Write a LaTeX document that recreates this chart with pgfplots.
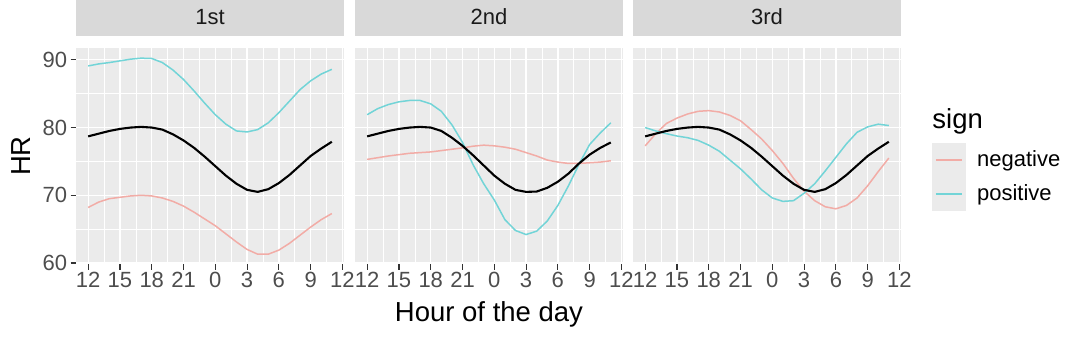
\documentclass[border=0pt]{standalone}
\usepackage{pgfplots}
\pgfplotsset{compat=1.18}
\usepackage{pgfplotstable}
\usepackage{fontspec}
\setmainfont{Liberation Sans}

\definecolor{bggray}{HTML}{EBEBEB}
\definecolor{stripgray}{HTML}{D9D9D9}
\definecolor{labelgray}{HTML}{4D4D4D}
\definecolor{tickgray}{HTML}{333333}
\definecolor{striptext}{HTML}{1A1A1A}
\definecolor{negcol}{HTML}{F2ACA6}
\definecolor{poscol}{HTML}{72D4D7}

\pgfplotstableread{
h all
0 78.7
1 79.1
2 79.5
3 79.8
4 80.0
5 80.1
6 80.0
7 79.7
8 79.0
9 78.1
10 77.0
11 75.7
12 74.3
13 72.9
14 71.7
15 70.8
16 70.5
17 70.9
18 71.8
19 73.0
20 74.4
21 75.8
22 76.9
23 77.9
}\allt

\pgfplotstableread{
h all
0 78.7
1 79.1
2 79.5
3 79.8
4 80.0
5 80.1
6 80.0
7 79.5
8 78.5
9 77.3
10 75.9
11 74.4
12 72.9
13 71.7
14 70.8
15 70.5
16 70.55
17 71.1
18 72.0
19 73.2
20 74.7
21 76.0
22 77.0
23 77.8
}\allb

\pgfplotstableread{
h neg pos
0 68.2 89.1
1 69.0 89.4
2 69.5 89.6
3 69.7 89.85
4 69.9 90.1
5 70.0 90.25
6 69.9 90.2
7 69.6 89.6
8 69.1 88.5
9 68.4 87.1
10 67.5 85.4
11 66.5 83.6
12 65.5 81.9
13 64.3 80.5
14 63.1 79.5
15 62.0 79.35
16 61.3 79.7
17 61.3 80.7
18 61.9 82.2
19 62.9 83.9
20 64.1 85.6
21 65.3 86.9
22 66.4 87.9
23 67.3 88.6
}\first

\pgfplotstableread{
h neg pos
0 75.3 81.9
1 75.55 82.8
2 75.8 83.4
3 76.0 83.8
4 76.2 84.0
5 76.3 84.0
6 76.4 83.5
7 76.6 82.4
8 76.8 80.4
9 77.0 77.8
10 77.25 74.5
11 77.4 71.7
12 77.3 69.3
13 77.1 66.4
14 76.8 64.8
15 76.3 64.2
16 75.8 64.7
17 75.2 66.2
18 74.9 68.5
19 74.7 71.4
20 74.7 74.6
21 74.8 77.5
22 74.9 79.2
23 75.1 80.7
}\second

\pgfplotstableread{
h neg pos
0 77.3 80.0
1 79.1 79.5
2 80.6 79.1
3 81.4 78.75
4 82.0 78.5
5 82.4 78.1
6 82.5 77.4
7 82.3 76.5
8 81.8 75.2
9 81.0 73.9
10 79.7 72.4
11 78.3 70.8
12 76.6 69.6
13 74.7 69.1
14 72.5 69.2
15 70.6 70.3
16 69.2 71.7
17 68.3 73.6
18 68.0 75.6
19 68.5 77.6
20 69.6 79.3
21 71.4 80.1
22 73.5 80.5
23 75.5 80.3
}\third

\newcommand{\tickfont}{\fontsize{11}{13}\selectfont}
\newcommand{\titlefont}{\fontsize{13.75}{16}\selectfont}

\pgfplotsset{panel/.style={
  scale only axis, width=134pt, height=108pt, anchor=south west,
  xmin=-1.15, xmax=24.15, ymin=59.85, ymax=91.75,
  axis background/.style={fill=bggray},
  axis line style={draw=none},
  xtick={0,3,...,24}, xticklabels={12,15,18,21,0,3,6,9,12},
  minor xtick={1.5,4.5,...,22.5},
  ytick={60,70,80,90}, minor ytick={65,75,85},
  grid=both,
  major grid style={white, line width=0.65pt},
  minor grid style={white, line width=0.35pt},
  tick align=outside, major tick length=2.75pt, minor tick length=0pt,
  xtick pos=bottom, ytick pos=left,
  tick style={color=tickgray, line width=0.55pt},
  every tick label/.append style={font=\tickfont, text=labelgray},
  xticklabel style={inner sep=1pt, yshift=-0.3pt},
  yticklabel style={inner sep=1.5pt},
  /pgf/number format/assume math mode=true,
  title style={at={(0.5,1)}, anchor=south, yshift=0pt, fill=stripgray,
    minimum width=134pt, minimum height=19pt, inner sep=0pt,
    font=\tickfont, text=striptext},
  negline/.style={negcol, line width=0.75pt},
  posline/.style={poscol, line width=0.75pt},
  allline/.style={black, line width=1.05pt},
}}

\begin{document}
\begin{tikzpicture}
\useasboundingbox (0,0) rectangle (540pt,169pt);

\begin{axis}[panel, at={(38pt,37pt)}, title={1st}]
\addplot[negline] table[x=h,y=neg]{\first};
\addplot[posline] table[x=h,y=pos]{\first};
\addplot[allline] table[x=h,y=all]{\allt};
\end{axis}

\begin{axis}[panel, at={(177.5pt,37pt)}, title={2nd}, yticklabels={}, ytick style={draw=none}]
\addplot[negline] table[x=h,y=neg]{\second};
\addplot[posline] table[x=h,y=pos]{\second};
\addplot[allline] table[x=h,y=all]{\allb};
\end{axis}

\begin{axis}[panel, at={(316.5pt,37pt)}, title={3rd}, yticklabels={}, ytick style={draw=none},
  legend style={at={(1.1157,0.560)}, anchor=north west, draw=none, fill=none,
    inner sep=0pt, outer sep=0pt, row sep=0pt, column sep=5.5pt,
    nodes={inner sep=0pt, font=\tickfont, text=black}},
  legend cell align=left,
  legend image code/.code={\fill[bggray] (0pt,-8.1pt) rectangle (16.3pt,8.1pt);
    \draw[#1] (1.5pt,0pt) -- (14.8pt,0pt);}]
\addplot[negline] table[x=h,y=neg]{\third};
\addlegendentry{negative}
\addplot[posline] table[x=h,y=pos]{\third};
\addlegendentry{positive}
\addplot[allline, forget plot] table[x=h,y=all]{\allt};
\end{axis}

\node[rotate=90, font=\titlefont] at (10.5pt,91pt) {HR};
\node[anchor=base, font=\titlefont] at (244.5pt,8.2pt) {Hour of the day};
\node[anchor=base west, font=\titlefont, inner sep=0pt] at (466pt,104.9pt) {sign};
\end{tikzpicture}
\end{document}
